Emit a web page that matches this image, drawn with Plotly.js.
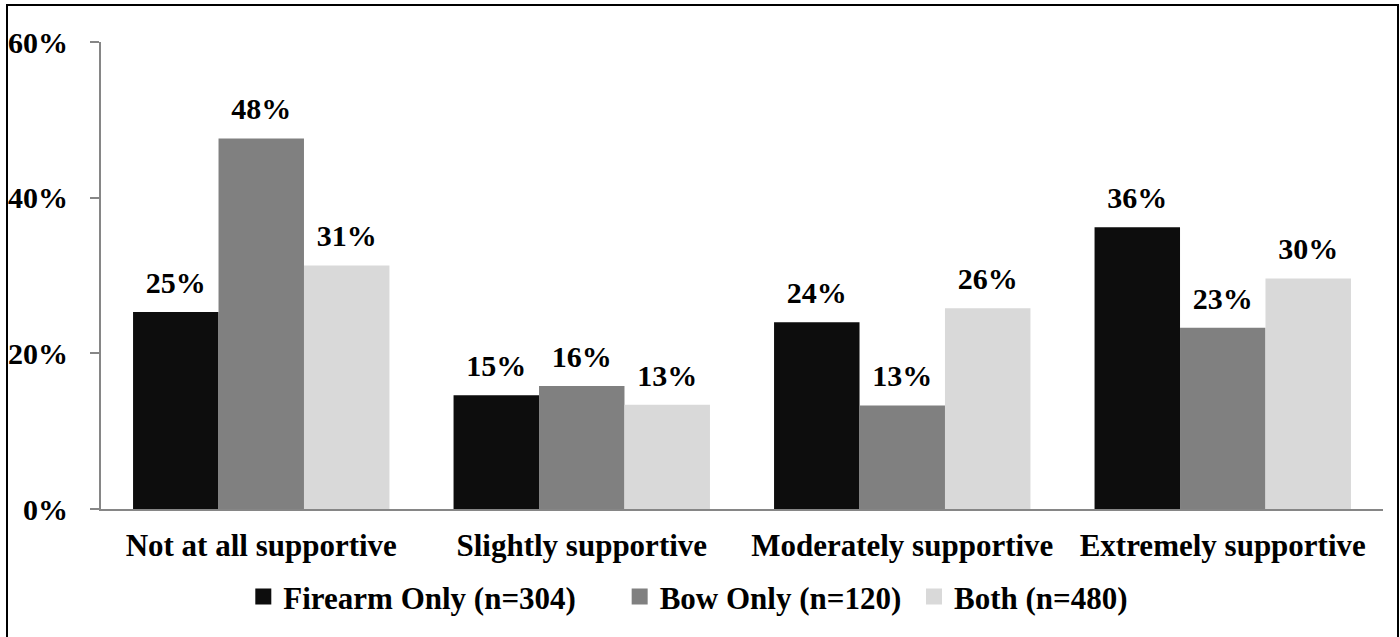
<!DOCTYPE html>
<html>
<head>
<meta charset="utf-8">
<script src="https://cdn.plot.ly/plotly-3.0.1.min.js"></script>
<style>
  html, body { margin: 0; padding: 0; background: #fff; overflow: hidden; }
  #wrap { position: relative; width: 1400px; height: 637px; }
  #chart { position: absolute; left: 0; top: 0; width: 1400px; height: 637px; }
  #frame { position: absolute; left: 6px; top: 4px; width: 1393px; height: 700px;
           box-sizing: border-box; border: 2px solid #000; pointer-events: none; }
</style>
</head>
<body>
<div id="wrap">
  <div id="chart"></div>
  <div id="frame"></div>
</div>
<script>
// ---- data ----
const categories = ['Not at all supportive', 'Slightly supportive', 'Moderately supportive', 'Extremely supportive'];
const seriesNames = ['Firearm Only (n=304)', 'Bow Only (n=120)', 'Both (n=480)'];
const firearmOnly = [25.3, 14.6, 24.0, 36.2];
const bowOnly = [47.6, 15.8, 13.3, 23.3];
const both = [31.3, 13.4, 25.8, 29.6];
const yTickValues = [0, 20, 40, 60];
const yTickLabels = ['0%', '20%', '40%', '60%'];

const colors = ['#0d0d0d', '#808080', '#d9d9d9'];
const legendPad = [5, 1, 0];   // trailing spacing (in nbsp) after each legend entry
const series = [firearmOnly, bowOnly, both];
const FONT = 'Liberation Serif, Times New Roman, serif';

const traces = [];
// bars
series.forEach((vals, i) => {
  traces.push({
    type: 'bar', x: categories, y: vals, name: seriesNames[i],
    marker: { color: colors[i] }, showlegend: false, hoverinfo: 'skip'
  });
});
// value labels (grouped scatter text, aligned with bars)
series.forEach((vals, i) => {
  traces.push({
    type: 'scatter', mode: 'markers+text', x: categories, y: vals,
    texttemplate: '%{y:.0f}%', textposition: 'top center',
    textfont: { family: FONT, size: 30, color: '#000', weight: 'bold' },
    marker: { size: 17, color: 'rgba(0,0,0,0)' },
    showlegend: false, hoverinfo: 'skip', cliponaxis: false
  });
});
// legend entries
series.forEach((vals, i) => {
  traces.push({
    type: 'scatter', mode: 'markers', x: [null], y: [null],
    xaxis: 'x2', yaxis: 'y2', name: seriesNames[i] + '\u00A0'.repeat(legendPad[i]),
    marker: { symbol: 'square', size: 16, color: colors[i] },
    hoverinfo: 'skip'
  });
});

const layout = {
  width: 1400, height: 637,
  margin: { l: 101, r: 17, t: 42, b: 128 },
  paper_bgcolor: '#fff', plot_bgcolor: '#fff',
  font: { family: FONT, size: 30, color: '#000', weight: 'bold' },
  barmode: 'group', bargap: 0.2, bargroupgap: 0,
  scattermode: 'group',
  showlegend: true,
  legend: {
    orientation: 'h', x: 0.111, xanchor: 'left', y: -0.188, yanchor: 'middle',
    font: { family: FONT, size: 31, color: '#000', weight: 'bold' },
    bgcolor: 'rgba(0,0,0,0)'
  },
  xaxis: {
    type: 'category', showline: true, linecolor: '#868686', linewidth: 2,
    ticks: '', showgrid: false, zeroline: false, ticklabelstandoff: 8,
    tickfont: { family: FONT, size: 31, color: '#000', weight: 'bold' }
  },
  yaxis: {
    range: [0, 60], tickvals: yTickValues, ticktext: yTickLabels,
    showline: true, linecolor: '#868686', linewidth: 2,
    ticks: 'outside', ticklen: 9, tickcolor: '#868686', tickwidth: 2,
    showgrid: false, zeroline: false, ticklabelstandoff: 16,
    tickfont: { family: FONT, size: 30, color: '#000', weight: 'bold' }
  },
  xaxis2: { overlaying: 'x', visible: false },
  yaxis2: { overlaying: 'y', visible: false }
};

Plotly.newPlot('chart', traces, layout, { displayModeBar: false, staticPlot: true });
</script>
</body>
</html>
